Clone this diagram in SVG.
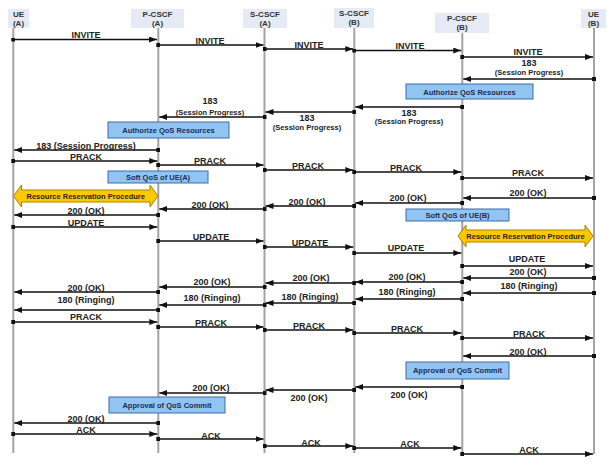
<svg xmlns="http://www.w3.org/2000/svg" width="612" height="466" viewBox="0 0 612 466">
<defs>
<marker id="ah" viewBox="0 0 8 6" refX="8" refY="3" markerWidth="8" markerHeight="6" markerUnits="userSpaceOnUse" orient="auto"><path d="M0,0 L8,3 L0,6 z" fill="#111"/></marker>
<marker id="sq" viewBox="0 0 4 4" refX="2" refY="2" markerWidth="4" markerHeight="4" markerUnits="userSpaceOnUse"><rect width="4" height="4" fill="#111"/></marker>
<style>
text{font-family:"Liberation Sans",Arial,sans-serif;font-weight:bold;text-anchor:middle}
.hd rect{fill:#e6eaf4}
.hd text{font-size:8px;fill:#333}
.ll{stroke:#a3a3a3;stroke-width:2}
.m line{stroke:#111;stroke-width:1.3;marker-start:url(#sq);marker-end:url(#ah)}
.m text{font-size:9px;fill:#222}
.m text.s{font-size:7.5px}
.bx rect{fill:#92c4f2;stroke:#3d6ca8;stroke-width:1}
.bx text{font-size:7.5px;fill:#1c2b55}
.yl path{fill:#ffc800;stroke:#a88400;stroke-width:1}
.yl text{font-size:7.5px;fill:#2a2300}
</style>
</defs>
<rect width="612" height="466" fill="#fff"/>

<g id="ue-a" class="hd"><rect x="8" y="9" width="21" height="19"/><text x="18.5" y="17">UE</text><text x="18.5" y="26">(A)</text><line class="ll" x1="13.3" y1="28" x2="13.3" y2="453"/></g>
<g id="pcscf-a" class="hd"><rect x="131" y="9" width="53" height="19"/><text x="157.5" y="17">P-CSCF</text><text x="157.5" y="26">(A)</text><line class="ll" x1="158.3" y1="28" x2="158.3" y2="453"/></g>
<g id="scscf-a" class="hd"><rect x="243" y="9" width="44" height="19"/><text x="265" y="17">S-CSCF</text><text x="265" y="26">(A)</text><line class="ll" x1="264.5" y1="28" x2="264.5" y2="453"/></g>
<g id="scscf-b" class="hd"><rect x="334" y="8" width="40" height="20"/><text x="354" y="16">S-CSCF</text><text x="354" y="25">(B)</text><line class="ll" x1="354.3" y1="28" x2="354.3" y2="453"/></g>
<g id="pcscf-b" class="hd"><rect x="435" y="13" width="54" height="20"/><text x="462" y="21">P-CSCF</text><text x="462" y="30">(B)</text><line class="ll" x1="462.3" y1="33" x2="462.3" y2="454"/></g>
<g id="ue-b" class="hd"><rect x="581" y="9" width="25" height="19"/><text x="593.5" y="17">UE</text><text x="593.5" y="26">(B)</text><line class="ll" x1="594" y1="28" x2="594" y2="454"/></g>

<g id="box-auth-b" class="bx"><rect x="406" y="84" width="127" height="15"/><text x="469.5" y="94.5">Authorize QoS Resources</text></g>
<g id="box-auth-a" class="bx"><rect x="108" y="122" width="121" height="16"/><text x="168.5" y="132.5">Authorize QoS Resources</text></g>
<g id="box-soft-a" class="bx"><rect x="108" y="171" width="100" height="12"/><text x="158" y="180">Soft QoS of UE(A)</text></g>
<g id="box-soft-b" class="bx"><rect x="406" y="209" width="103" height="12"/><text x="457.5" y="218">Soft QoS of UE(B)</text></g>
<g id="box-commit-b" class="bx"><rect x="406" y="362" width="103" height="17"/><text x="457.5" y="373">Approval of QoS Commit</text></g>
<g id="box-commit-a" class="bx"><rect x="109" y="397" width="116" height="16"/><text x="167" y="408">Approval of QoS Commit</text></g>
<g id="rrp-a" class="yl"><path d="M13.5,196 L21.5,185 L21.5,190 L150,190 L150,185 L158,196 L150,207 L150,202 L21.5,202 L21.5,207 Z"/><text x="85.7" y="199">Resource Reservation Procedure</text></g>
<g id="rrp-b" class="yl"><path d="M458,236 L466,225 L466,230 L585,230 L585,225 L593,236 L585,247 L585,242 L466,242 L466,247 Z"/><text x="525.5" y="239">Resource Reservation Procedure</text></g>

<g id="connectors" class="m">
<line x1="13.3" y1="39.5" x2="157" y2="39.5"/><text x="86" y="38">INVITE</text>
<line x1="158.3" y1="45" x2="263.5" y2="45"/><text x="210" y="43.5">INVITE</text>
<line x1="264.5" y1="49" x2="353.3" y2="49"/><text x="309" y="47.5">INVITE</text>
<line x1="354.3" y1="50.5" x2="461.3" y2="50.5"/><text x="410" y="48.5">INVITE</text>
<line x1="462.3" y1="57" x2="593" y2="57"/><text x="528" y="54.5">INVITE</text>
<line x1="594" y1="79" x2="463.3" y2="79"/><text x="529" y="65.5">183</text><text class="s" x="529" y="74.5">(Session Progress)</text>
<line x1="462.3" y1="107" x2="355.3" y2="107"/><text x="409" y="115.5">183</text><text class="s" x="409" y="124">(Session Progress)</text>
<line x1="354.3" y1="112" x2="265.5" y2="112"/><text x="307" y="120.5">183</text><text class="s" x="307" y="129.5">(Session Progress)</text>
<line x1="264.5" y1="117" x2="159.3" y2="117"/><text x="210" y="104">183</text><text class="s" x="210" y="114.5">(Session Progress)</text>
<line x1="158.3" y1="150" x2="14.3" y2="150"/><text x="86" y="148.5">183 (Session Progress)</text>
<line x1="13.3" y1="161" x2="157.3" y2="161"/><text x="86" y="159.5">PRACK</text>
<line x1="158.3" y1="165" x2="263.5" y2="165"/><text x="210" y="164">PRACK</text>
<line x1="264.5" y1="170" x2="353.3" y2="170"/><text x="308" y="168.5">PRACK</text>
<line x1="354.3" y1="172" x2="461.3" y2="172"/><text x="406" y="171">PRACK</text>
<line x1="462.3" y1="178" x2="593" y2="178"/><text x="528" y="176">PRACK</text>
<line x1="594" y1="198" x2="463.3" y2="198"/><text x="528" y="196">200 (OK)</text>
<line x1="462.3" y1="203" x2="355.3" y2="203"/><text x="408" y="201">200 (OK)</text>
<line x1="354.3" y1="206" x2="265.5" y2="206"/><text x="307" y="204.5">200 (OK)</text>
<line x1="264.5" y1="209" x2="159.3" y2="209"/><text x="210" y="208">200 (OK)</text>
<line x1="158.3" y1="215" x2="14.3" y2="215"/><text x="86" y="214">200 (OK)</text>
<line x1="13.3" y1="227" x2="157.3" y2="227"/><text x="86" y="225.5">UPDATE</text>
<line x1="158.3" y1="241" x2="263.5" y2="241"/><text x="211" y="240">UPDATE</text>
<line x1="264.5" y1="247" x2="353.3" y2="247"/><text x="310" y="246">UPDATE</text>
<line x1="354.3" y1="253" x2="461.3" y2="253"/><text x="406" y="251">UPDATE</text>
<line x1="462.3" y1="266" x2="593" y2="266"/><text x="527" y="262">UPDATE</text>
<line x1="594" y1="278" x2="463.3" y2="278"/><text x="528" y="275">200 (OK)</text>
<line x1="594" y1="293" x2="463.3" y2="293"/><text x="529" y="289">180 (Ringing)</text>
<line x1="462.3" y1="282" x2="355.3" y2="282"/><text x="407" y="280">200 (OK)</text>
<line x1="462.3" y1="299" x2="355.3" y2="299"/><text x="407" y="295">180 (Ringing)</text>
<line x1="354.3" y1="283" x2="265.5" y2="283"/><text x="311" y="280.5">200 (OK)</text>
<line x1="354.3" y1="303" x2="265.5" y2="303"/><text x="310" y="299.5">180 (Ringing)</text>
<line x1="264.5" y1="287" x2="159.3" y2="287"/><text x="212" y="285">200 (OK)</text>
<line x1="264.5" y1="305" x2="159.3" y2="305"/><text x="212" y="301">180 (Ringing)</text>
<line x1="158.3" y1="292" x2="14.3" y2="292"/><text x="86" y="291">200 (OK)</text>
<line x1="158.3" y1="310" x2="14.3" y2="310"/><text x="86" y="303">180 (Ringing)</text>
<line x1="13.3" y1="322" x2="157.3" y2="322"/><text x="86" y="320">PRACK</text>
<line x1="158.3" y1="327" x2="263.5" y2="327"/><text x="211" y="326">PRACK</text>
<line x1="264.5" y1="330" x2="353.3" y2="330"/><text x="309" y="328.5">PRACK</text>
<line x1="354.3" y1="333" x2="461.3" y2="333"/><text x="407" y="332">PRACK</text>
<line x1="462.3" y1="338" x2="593" y2="338"/><text x="529" y="337">PRACK</text>
<line x1="594" y1="356" x2="463.3" y2="356"/><text x="528" y="355">200 (OK)</text>
<line x1="462.3" y1="387" x2="355.3" y2="387"/><text x="409" y="398">200 (OK)</text>
<line x1="354.3" y1="390" x2="265.5" y2="390"/><text x="309" y="401">200 (OK)</text>
<line x1="264.5" y1="393" x2="159.3" y2="393"/><text x="211" y="391">200 (OK)</text>
<line x1="158.3" y1="423" x2="14.3" y2="423"/><text x="86" y="422">200 (OK)</text>
<line x1="13.3" y1="434" x2="157.3" y2="434"/><text x="86" y="433">ACK</text>
<line x1="158.3" y1="439" x2="263.5" y2="439"/><text x="211" y="438.5">ACK</text>
<line x1="264.5" y1="446" x2="353.3" y2="446"/><text x="311" y="445.5">ACK</text>
<line x1="354.3" y1="448" x2="461.3" y2="448"/><text x="410" y="447">ACK</text>
<line x1="462.3" y1="454" x2="593" y2="454"/><text x="529" y="452.5">ACK</text>
</g>
</svg>
